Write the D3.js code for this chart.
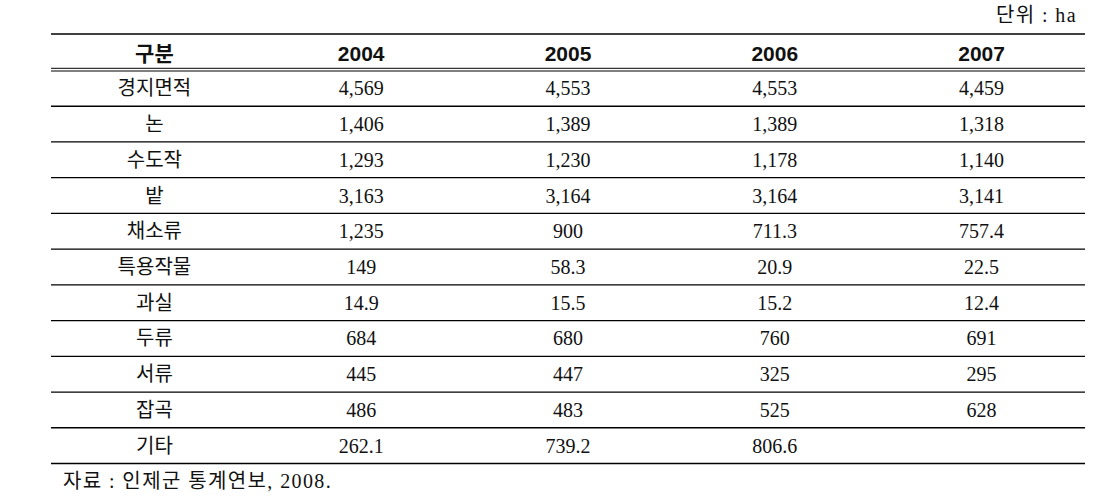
<!DOCTYPE html>
<html lang="ko">
<head>
<meta charset="UTF-8">
<script src="https://cdn.jsdelivr.net/npm/d3@7"></script>
<title>경지면적</title>
<style>
    body { margin: 0; background: #fff; }
    .body-text { font-family: "Liberation Serif", "Noto Sans CJK KR", serif; font-size: 20px; fill: #111; }
    .head-text { font-family: "Liberation Sans", "Noto Sans CJK KR", sans-serif; font-size: 21px; font-weight: bold; fill: #111; }
    .note { letter-spacing: 1.4px; white-space: pre; }
    .rule { stroke: #000; }
</style>
</head>
<body>
<div id="table"></div>
<script>
    const width = 1109;
    const height = 503;

    const columns = ["구분", "2004", "2005", "2006", "2007"];
    const categories = ["경지면적", "논", "수도작", "밭", "채소류", "특용작물", "과실", "두류", "서류", "잡곡", "기타"];
    const v2004 = ["4,569", "1,406", "1,293", "3,163", "1,235", "149", "14.9", "684", "445", "486", "262.1"];
    const v2005 = ["4,553", "1,389", "1,230", "3,164", "900", "58.3", "15.5", "680", "447", "483", "739.2"];
    const v2006 = ["4,553", "1,389", "1,178", "3,164", "711.3", "20.9", "15.2", "760", "325", "525", "806.6"];
    const v2007 = ["4,459", "1,318", "1,140", "3,141", "757.4", "22.5", "12.4", "691", "295", "628", ""];
    const unitLabel = "단위 : ha";
    const sourceLabel = "자료 : 인제군 통계연보, 2008.";

    const rows = categories.map((c, i) => [c, v2004[i], v2005[i], v2006[i], v2007[i]]);

    const tblLeft = 51, tblRight = 1085;
    const tblTop = 34, headBottom = 70, tblBottom = 463.5;

    const x = d3.scaleBand().domain(columns).range([tblLeft, tblRight]);
    const y = d3.scaleBand().domain(categories).range([headBottom + 0.5, tblBottom]);

    const svg = d3.select("#table").append("svg")
        .attr("width", width)
        .attr("height", height);

    // unit label
    svg.append("text")
        .attr("class", "body-text note")
        .attr("x", 1077).attr("y", 22)
        .attr("text-anchor", "end")
        .text(unitLabel);

    // rules
    svg.append("line").attr("class", "rule")
        .attr("x1", tblLeft).attr("x2", tblRight)
        .attr("y1", tblTop).attr("y2", tblTop)
        .attr("stroke-width", 1.3);
    [68.3, 71].forEach(yy => {
        svg.append("line").attr("class", "rule")
            .attr("x1", tblLeft).attr("x2", tblRight)
            .attr("y1", yy).attr("y2", yy)
            .attr("stroke-width", 1);
    });
    svg.selectAll("line.row-rule")
        .data(categories)
        .enter().append("line")
        .attr("class", "rule row-rule")
        .attr("x1", tblLeft).attr("x2", tblRight)
        .attr("y1", d => y(d) + y.bandwidth())
        .attr("y2", d => y(d) + y.bandwidth())
        .attr("stroke-width", 1.3);

    // header
    svg.selectAll("text.head")
        .data(columns)
        .enter().append("text")
        .attr("class", "head-text head")
        .attr("x", d => x(d) + x.bandwidth() / 2)
        .attr("y", 53)
        .attr("text-anchor", "middle")
        .attr("dominant-baseline", "central")
        .text(d => d);

    // body cells
    const rowG = svg.selectAll("g.row")
        .data(rows)
        .enter().append("g")
        .attr("class", "row")
        .attr("transform", d => `translate(0,${y(d[0]) + y.bandwidth() / 2})`);

    rowG.selectAll("text")
        .data(d => d.map((v, j) => ({ col: columns[j], v })))
        .enter().append("text")
        .attr("class", "body-text")
        .attr("x", d => x(d.col) + x.bandwidth() / 2)
        .attr("y", 0)
        .attr("text-anchor", "middle")
        .attr("dominant-baseline", "central")
        .text(d => d.v);

    // source
    svg.append("text")
        .attr("class", "body-text note")
        .attr("x", 63).attr("y", 488)
        .text(sourceLabel);
</script>
</body>
</html>
